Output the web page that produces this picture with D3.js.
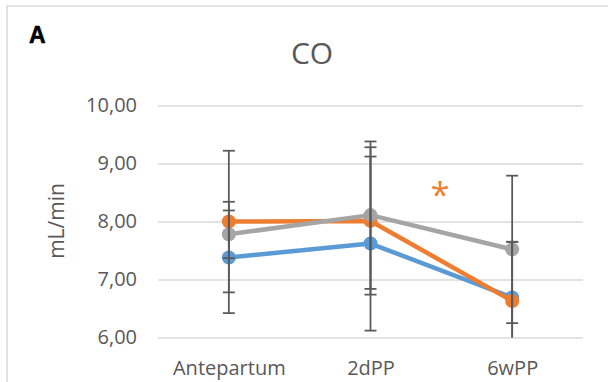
<!DOCTYPE html>
<html>
<head>
<meta charset="utf-8">
<script src="https://cdn.jsdelivr.net/npm/d3@7"></script>
<style>
	html, body { margin: 0; padding: 0; background: #fff; }
	svg { display: block; }
</style>
</head>
<body>
<div id="chart"></div>
<script>
//	Values
var categories = ["Antepartum", "2dPP", "6wPP"];

var blueValues = [7.38, 7.62, 6.69],
	blueErrors = [0.96, 1.50, 0.96];

var orangeValues = [8.00, 8.01, 6.63],
	orangeErrors = [1.22, 1.27, 1.02];

var grayValues = [7.78, 8.11, 7.52],
	grayErrors = [0.41, 1.27, 1.27];

var yTicks = [6, 7, 8, 9, 10];

var series = [
	{ color: "#5b9bd5", values: blueValues, errors: blueErrors },
	{ color: "#ed7d31", values: orangeValues, errors: orangeErrors },
	{ color: "#a5a5a5", values: grayValues, errors: grayErrors }
];

var W = 608, H = 382;
var plotL = 158, plotR = 583, plotT = 105.5, plotB = 337.5;
var font = "'Open Sans', sans-serif";

var svg = d3.select("#chart")
	.append("svg")
	.attr("width", W)
	.attr("height", H);

//	Chart frame (cut off at right and bottom)
svg.append("rect")
	.attr("x", 7)
	.attr("y", 6)
	.attr("width", 640)
	.attr("height", 400)
	.attr("fill", "#fff")
	.attr("stroke", "#d9d9d9")
	.attr("stroke-width", 1.5);

var x = d3.scalePoint()
	.domain(categories)
	.range([plotL, plotR])
	.padding(0.5);

var y = d3.scaleLinear()
	.domain([6, 10])
	.range([plotB, plotT]);

var fmt = d3.formatLocale({ decimal: ",", thousands: ".", grouping: [3], currency: ["", ""] }).format(".2f");

//	Gridlines
var grid = svg.append("g")
	.attr("transform", "translate(" + plotL + ",0)")
	.call(d3.axisLeft(y).tickValues(yTicks).tickSize(-(plotR - plotL)).tickFormat(""));
grid.select(".domain").remove();
grid.selectAll("line")
	.attr("stroke", "#d9d9d9")
	.attr("stroke-width", 1.5);

//	Y tick labels
var yAxis = svg.append("g")
	.attr("transform", "translate(137,0)")
	.call(d3.axisLeft(y).tickValues(yTicks).tickSize(0).tickPadding(0).tickFormat(fmt));
yAxis.select(".domain").remove();
yAxis.selectAll("text")
	.attr("font-family", font)
	.attr("font-size", 20)
	.attr("fill", "#595959");

//	X labels
var xAxis = svg.append("g")
	.attr("transform", "translate(0," + plotB + ")")
	.call(d3.axisBottom(x).tickSize(0).tickPadding(0));
xAxis.select(".domain").remove();
xAxis.selectAll("text")
	.attr("font-family", font)
	.attr("font-size", 20)
	.attr("fill", "#595959")
	.attr("dy", null)
	.attr("y", 37);

//	Lines and markers
var line = d3.line()
	.x(function(d, i) { return x(categories[i]); })
	.y(function(d) { return y(d); });

series.forEach(function(s) {
	svg.append("path")
		.datum(s.values)
		.attr("d", line)
		.attr("fill", "none")
		.attr("stroke", s.color)
		.attr("stroke-width", 4.5)
		.attr("stroke-linejoin", "round");

	svg.selectAll(null)
		.data(s.values)
		.enter()
		.append("circle")
		.attr("cx", function(d, i) { return x(categories[i]); })
		.attr("cy", function(d) { return y(d); })
		.attr("r", 7)
		.attr("fill", s.color);
});

//	Error bars, clipped to the plot area
svg.append("clipPath")
	.attr("id", "plot-clip")
	.append("rect")
	.attr("x", plotL)
	.attr("y", 0)
	.attr("width", plotR - plotL)
	.attr("height", plotB);

var errG = svg.append("g").attr("clip-path", "url(#plot-clip)");
var capW = 6;

series.forEach(function(s) {
	s.values.forEach(function(v, i) {
		var cx = x(categories[i]),
			hi = y(v + s.errors[i]),
			lo = y(v - s.errors[i]);

		errG.append("line")
			.attr("x1", cx).attr("x2", cx)
			.attr("y1", hi).attr("y2", lo)
			.attr("stroke", "#595959")
			.attr("stroke-width", 1.75);

		[hi, lo].forEach(function(yy) {
			errG.append("line")
				.attr("x1", cx - capW).attr("x2", cx + capW)
				.attr("y1", yy).attr("y2", yy)
				.attr("stroke", "#595959")
				.attr("stroke-width", 1.75);
		});
	});
});

//	Titles
svg.append("text")
	.attr("x", 312)
	.attr("y", 64)
	.attr("text-anchor", "middle")
	.attr("font-family", font)
	.attr("font-size", 30)
	.attr("fill", "#595959")
	.text("CO");

svg.append("text")
	.attr("x", 29)
	.attr("y", 43)
	.attr("font-family", "'Liberation Sans', Arial, sans-serif")
	.attr("font-weight", "bold")
	.attr("font-size", 23)
	.attr("fill", "#000")
	.attr("stroke", "#000")
	.attr("stroke-width", 0.6)
	.text("A");

svg.append("text")
	.attr("transform", "translate(64,221) rotate(-90)")
	.attr("text-anchor", "middle")
	.attr("font-family", font)
	.attr("font-size", 21)
	.attr("fill", "#595959")
	.text("mL/min");

//	Significance mark
svg.append("text")
	.attr("x", 440)
	.attr("y", 207)
	.attr("text-anchor", "middle")
	.attr("font-family", font)
	.attr("font-size", 34)
	.attr("fill", "#ed7d31")
	.text("*");
</script>
</body>
</html>
